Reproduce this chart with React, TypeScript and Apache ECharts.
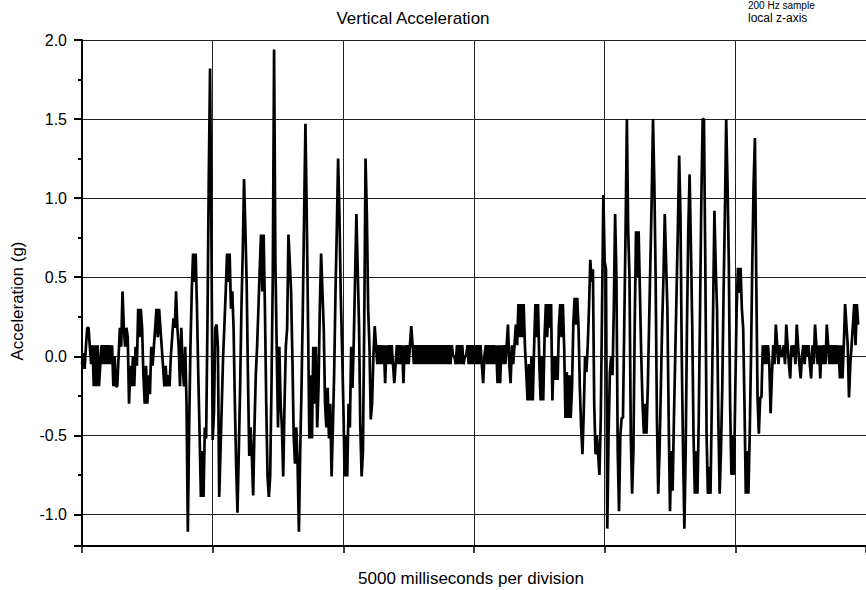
import React, { useEffect, useRef } from "react";
import * as echarts from "echarts";

const SAMPLE_MS = 50;
const DIVISION_MS = 5000;
const Y_TICKS = ["2.0", "1.5", "1.0", "0.5", "0.0", "-0.5", "-1.0"];

// Vertical acceleration (g), division by division
const segA = [
  -0.05, 0.02, -0.08, 0.06, 0.18, 0.18, 0.06, -0.05, 0.07, -0.19,
  0.07, -0.19, 0.07, -0.19, -0.05, 0.07, -0.05, 0.07, -0.05, 0.07,
  -0.05, 0.07, -0.05, 0.07, -0.19, 0.0, -0.19, -0.19, 0.0, 0.18,
  0.06, 0.41, 0.18, 0.06, 0.18, 0.12, -0.3, -0.06, -0.19, 0.0,
  -0.19, 0.06, -0.06, 0.3, 0.12, 0.3, 0.18, -0.12, -0.3, -0.06,
  -0.3, -0.12, -0.24, 0.06, -0.06, 0.06, 0.18, 0.3, 0.12, 0.3,
  0.18, 0.06, -0.06, -0.19, -0.06, -0.19, -0.12, -0.19, 0.0, 0.12,
  0.24, 0.18, 0.41, 0.18, 0.06, -0.19, 0.18, -0.06, -0.19, 0.06,
  -0.3, -1.11, -0.45, 0.06, 0.41, 0.65, 0.47, 0.65, 0.3, -0.12,
  -0.49, -0.89, -0.6, -0.89, -0.45, -0.52, 0.2, 1.11, 1.82, 0.82,
];
const segB = [
  -0.53, -0.35, 0.18, 0.2, 0.06, -0.89, -0.6, -0.3, 0.0, 0.2,
  0.41, 0.65, 0.47, 0.65, 0.3, 0.41, 0.18, -0.3, -0.7, -0.99,
  -0.6, -0.2, 0.3, 0.65, 1.12, 0.82, 0.47, -0.12, -0.63, -0.45,
  -0.63, -0.88, -0.45, -0.12, 0.06, 0.3, 0.55, 0.77, 0.41, 0.77,
  0.3, -0.3, -0.76, -0.89, -0.76, -0.2, 0.5, 1.94, 0.6, 0.06,
  -0.45, 0.06, -0.3, -0.45, -0.76, -0.3, 0.06, 0.18, 0.77, 0.6,
  0.41, 0.0, -0.5, -0.68, -0.45, -0.68, -1.11, -0.6, -0.2, 0.3,
  0.9, 1.47, 0.9, 0.2, -0.52, -0.12, -0.52, 0.06, -0.3, 0.06,
  -0.45, -0.2, 0.3, 0.65, 0.41, 0.18, -0.3, -0.45, -0.2, -0.52,
  -0.3, -0.76, -0.45, -0.1, 0.4, 0.8, 1.25, 0.9, 0.4, 0.06,
];
const segC = [
  -0.3, -0.76, -0.5, -0.76, -0.3, -0.45, 0.06, -0.2, 0.1, 0.5,
  0.9, 0.55, 0.2, -0.45, -0.76, -0.6, 0.2, 1.25, 0.9, 0.3,
  0.06, -0.4, -0.3, 0.0, 0.19, 0.07, -0.05, 0.07, -0.05, 0.07,
  -0.05, 0.07, -0.17, 0.07, -0.05, 0.07, -0.05, 0.07, -0.05, -0.17,
  -0.05, 0.07, -0.05, 0.07, -0.05, 0.07, -0.17, 0.07, -0.05, 0.07,
  -0.05, 0.07, 0.19, 0.07, -0.05, 0.07, -0.05, 0.07, -0.05, 0.07,
  -0.05, 0.07, -0.05, 0.07, -0.05, 0.07, -0.05, 0.07, -0.05, 0.07,
  -0.05, 0.07, -0.05, 0.07, -0.05, 0.07, -0.05, 0.07, -0.05, 0.07,
  -0.05, 0.07, -0.05, 0.07, 0.0, 0.0, -0.05, 0.07, -0.05, 0.07,
  -0.05, 0.07, -0.05, 0.0, 0.0, 0.07, -0.05, 0.07, -0.05, 0.07,
];
const segD = [
  -0.05, 0.07, -0.05, 0.07, -0.05, 0.07, -0.05, -0.17, 0.0, 0.07,
  -0.05, 0.07, -0.05, 0.07, -0.05, 0.07, -0.05, 0.07, -0.17, 0.07,
  -0.17, 0.07, -0.05, 0.07, -0.05, 0.07, 0.2, -0.05, -0.17, 0.07,
  -0.05, 0.07, 0.2, 0.07, 0.33, 0.12, 0.33, 0.12, 0.33, 0.06,
  -0.1, -0.28, -0.05, -0.28, 0.0, -0.28, 0.06, 0.33, 0.12, 0.33,
  -0.05, -0.28, 0.0, -0.28, 0.12, 0.33, 0.12, 0.33, 0.18, 0.33,
  -0.28, 0.0, -0.15, 0.0, -0.15, 0.2, 0.33, 0.12, 0.33, 0.06,
  -0.39, -0.1, -0.39, -0.12, -0.39, -0.2, 0.2, 0.37, 0.2, 0.37,
  0.18, -0.2, -0.45, -0.62, -0.35, 0.0, -0.1, 0.06, 0.3, 0.61,
  0.47, 0.55, -0.3, -0.62, -0.5, -0.62, -0.75, -0.4, 0.3, 1.02,
];
const segE = [
  0.6, 0.55, -1.09, -0.5, -0.1, 0.0, -0.12, 0.3, 0.9, 0.5,
  -0.6, -0.98, -0.5, -0.39, -0.39, 0.2, 0.79, 1.5, 0.79, 0.5,
  -0.5, -0.87, -0.6, 0.2, 0.79, 0.5, 0.79, 0.4, 0.0, -0.3,
  -0.49, -0.3, -0.49, -0.2, 0.2, 0.6, 1.0, 1.5, 1.1, 0.5,
  -0.4, -0.87, -0.6, -0.2, 0.2, 0.5, 0.9, 0.6, 0.3, -0.4,
  -0.98, -0.6, -0.85, -0.4, 0.0, 0.4, 0.8, 1.27, 0.9, 0.0,
  -0.6, -1.09, -0.6, 0.2, 0.8, 1.15, 0.7, 0.2, -0.5, -0.87,
  -0.6, -0.87, -0.4, 0.3, 1.0, 1.5, 1.5, 0.6, -0.5, -0.87,
  -0.7, -0.87, -0.3, 0.3, 0.92, 0.56, 0.3, -0.4, -0.87, -0.6,
  -0.2, 0.4, 0.9, 1.5, 1.1, 0.6, -0.3, -0.75, -0.5, -0.75,
];
const segF = [
  -0.2, 0.3, 0.56, 0.4, 0.56, 0.3, 0.18, -0.3, -0.87, -0.6,
  -0.87, -0.5, 0.0, 0.6, 1.1, 1.38, 0.5, -0.26, -0.49, -0.26,
  -0.26, 0.07, -0.05, 0.07, -0.05, 0.07, -0.05, -0.36, -0.12, 0.07,
  -0.05, 0.2, 0.07, -0.05, 0.07, 0.0, 0.0, 0.07, -0.05, 0.2,
  0.07, -0.05, -0.14, 0.07, 0.0, 0.07, -0.05, 0.2, 0.07, -0.05,
  -0.14, 0.0, 0.07, -0.05, 0.07, 0.0, 0.07, -0.05, -0.14, 0.07,
  -0.05, 0.2, 0.07, -0.05, 0.07, -0.14, 0.07, -0.05, 0.07, -0.05,
  0.2, 0.07, -0.05, 0.07, -0.05, 0.07, -0.05, 0.07, -0.05, 0.07,
  -0.14, 0.07, -0.14, 0.07, 0.33, 0.2, 0.07, -0.26, -0.05, 0.07,
  0.2, 0.33, 0.07, 0.33, 0.2,
];

const accel = [...segA, ...segB, ...segC, ...segD, ...segE, ...segF];

const FONT = "'Liberation Sans', Arial, Helvetica, sans-serif";

export default function App() {
  const ref = useRef<HTMLDivElement>(null);

  useEffect(() => {
    if (!ref.current) return;
    const chart = echarts.init(ref.current, undefined, { renderer: "svg" });
    const data = accel.map((v, i) => [i * SAMPLE_MS, v]);

    chart.setOption({
      animation: false,
      backgroundColor: "#ffffff",
      grid: { left: 82, top: 40, width: 791, height: 506, containLabel: false },
      xAxis: {
        type: "value",
        min: 0,
        max: DIVISION_MS * 6,
        interval: DIVISION_MS,
        axisLine: { show: true, onZero: false, lineStyle: { color: "#000", width: 2 } },
        axisTick: { show: true, length: 7, lineStyle: { color: "#000", width: 1.5 } },
        axisLabel: { show: false },
        splitLine: { show: true, lineStyle: { color: "#222", width: 1 } },
      },
      yAxis: {
        type: "value",
        min: -1.2,
        max: 2.0,
        splitNumber: 6,
        axisLine: { show: true, onZero: false, lineStyle: { color: "#000", width: 2 } },
        axisTick: { show: true, length: 8, lineStyle: { color: "#000", width: 2 } },
        minorTick: { show: true, splitNumber: 2, length: 4, lineStyle: { color: "#000", width: 2 } },
        axisLabel: {
          margin: 15,
          color: "#000",
          fontFamily: FONT,
          fontSize: 16,
          formatter: (v: number) => {
            const s = v.toFixed(1);
            return Y_TICKS.includes(s) && Math.abs(v * 2 - Math.round(v * 2)) < 1e-6 ? s : "";
          },
        },
        splitLine: { show: true, lineStyle: { color: "#222", width: 1 } },
      },
      series: [
        {
          type: "line",
          data,
          showSymbol: false,
          symbol: "none",
          smooth: false,
          lineStyle: { color: "#000", width: 2.7, join: "bevel" },
          z: 3,
        },
      ],
      graphic: [
        {
          type: "text",
          x: 413,
          y: 18,
          style: {
            text: "Vertical Acceleration",
            fill: "#000",
            font: `17px ${FONT}`,
            textAlign: "center",
            textVerticalAlign: "middle",
          },
        },
        {
          type: "text",
          x: 748,
          y: 5,
          style: {
            text: "200 Hz sample",
            fill: "#000",
            font: `10px ${FONT}`,
            textAlign: "left",
            textVerticalAlign: "middle",
          },
        },
        {
          type: "text",
          x: 748,
          y: 18,
          style: {
            text: "local z-axis",
            fill: "#000",
            font: `12px ${FONT}`,
            textAlign: "left",
            textVerticalAlign: "middle",
          },
        },
        {
          type: "text",
          x: 471,
          y: 578,
          style: {
            text: "5000 milliseconds per division",
            fill: "#000",
            font: `17px ${FONT}`,
            textAlign: "center",
            textVerticalAlign: "middle",
          },
        },
        {
          type: "text",
          x: 17,
          y: 301,
          rotation: Math.PI / 2,
          style: {
            text: "Acceleration (g)",
            fill: "#000",
            font: `17px ${FONT}`,
            textAlign: "center",
            textVerticalAlign: "middle",
          },
        },
      ],
    });

    return () => chart.dispose();
  }, []);

  return <div ref={ref} style={{ width: 866, height: 590, position: "absolute", left: 0, top: 0 }} />;
}
